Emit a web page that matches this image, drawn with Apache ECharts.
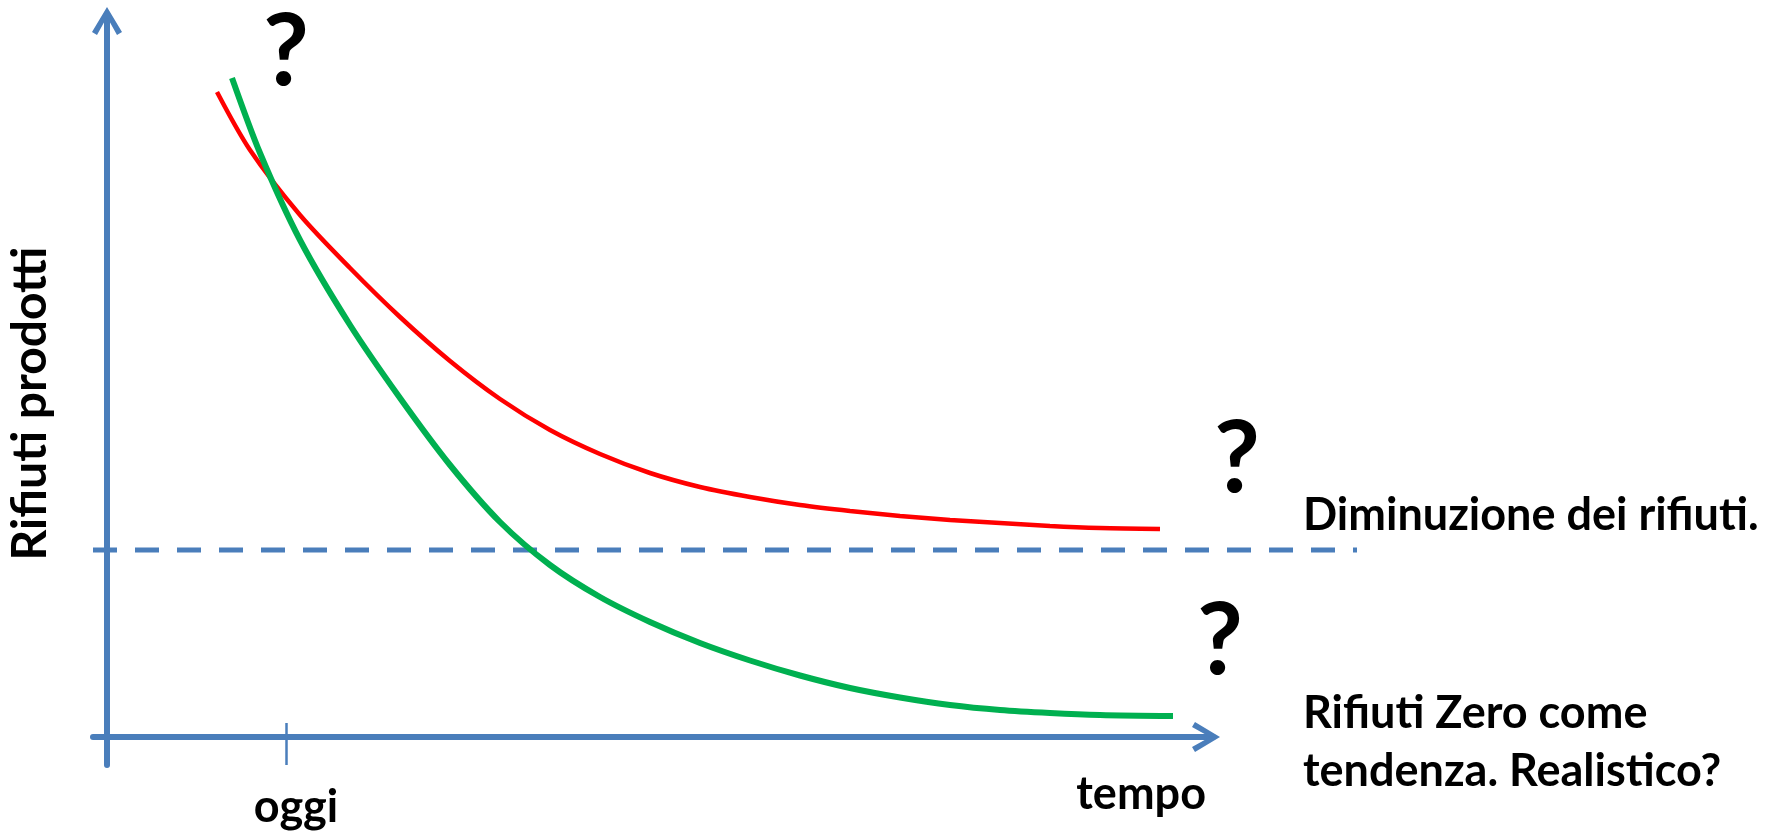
<!DOCTYPE html>
<html>
<head>
<meta charset="utf-8">
<style>
  html, body { margin: 0; padding: 0; background: #fff; }
  #chart { width: 1775px; height: 837px; }
</style>
<script src="https://cdn.jsdelivr.net/npm/echarts@6.0.0/dist/echarts.min.js"></script>
</head>
<body>
<div id="chart"></div>
<script>
// valori (unita' arbitrarie: tempo / rifiuti)
var redX = [11.0, 14.3, 19.3, 24.3, 29.3, 34.3, 39.3, 44.3, 49.3, 54.3, 59.3, 64.3, 69.3, 74.3, 79.3, 84.3, 89.3, 94.3, 99.3, 105.3];
var redY = [64.5, 58.7, 52.2, 46.9, 42.0, 37.6, 33.8, 30.7, 28.3, 26.4, 25.0, 24.0, 23.2, 22.6, 22.1, 21.7, 21.4, 21.1, 20.9, 20.8];

var greenX = [12.5, 15.3, 19.3, 24.3, 29.3, 34.3, 39.3, 44.3, 49.3, 54.3, 59.3, 64.3, 69.3, 74.3, 79.3, 84.3, 89.3, 94.3, 99.3, 106.6];
var greenY = [65.9, 58.4, 49.7, 41.2, 33.9, 27.2, 21.5, 17.2, 14.0, 11.5, 9.4, 7.65, 6.15, 4.9, 3.95, 3.2, 2.7, 2.4, 2.2, 2.1];

// linea tratteggiata (soglia), va oltre la freccia dell'asse
var targetX = [-1.4, 125.0];
var targetY = [18.7, 18.7];

var todayX = 17.9;           // tacca "oggi"
var xLabelValues = [18.9];
var xLabelTexts = ['oggi'];

var blue = '#4A7EBB';
var font = 'Lato, "Open Sans", sans-serif';
// freccia a V (punta in alto, ruotata da echarts)
var chevron = 'path://M15,0 L30,25 L25,28 L15,10 L5,28 L0,25 Z';

function zip(xs, ys) {
    var out = [];
    for (var i = 0; i < xs.length; i++) out.push([xs[i], ys[i]]);
    return out;
}

var chart = echarts.init(document.getElementById('chart'));
var option = {
    animation: false,
    backgroundColor: '#fff',
    grid: [
        { left: 93, right: 562, top: 14, bottom: 72, outerBoundsMode: 'none' },
        // stessa scala, piu' larga, solo per la linea tratteggiata
        { left: 93, right: 418, top: 14, bottom: 72, outerBoundsMode: 'none' }
    ],
    xAxis: [{
        type: 'value',
        min: -1.4,
        max: 110.6,
        name: 'tempo',
        nameLocation: 'end',
        nameGap: -7,
        nameTextStyle: {
            fontFamily: font, fontWeight: 'bold', fontSize: 45, color: '#000',
            align: 'right', verticalAlign: 'top', padding: [35, 0, 0, 0]
        },
        axisLine: {
            onZero: true,
            symbol: ['none', chevron],
            symbolSize: [30, 28],
            symbolOffset: [0, -7],
            lineStyle: { color: blue, width: 6 }
        },
        axisTick: { show: false },
        splitLine: { show: false },
        axisLabel: {
            customValues: xLabelValues,
            formatter: function (v) {
                var i = xLabelValues.indexOf(v);
                return i >= 0 ? xLabelTexts[i] : '';
            },
            margin: 20,
            fontFamily: font, fontWeight: 'bold', fontSize: 45, color: '#000'
        }
    }, {
        type: 'value', gridIndex: 1, min: -1.4, max: 125.0, show: false
    }],
    yAxis: [{
        type: 'value',
        min: -2.8,
        max: 72.3,
        name: 'Rifiuti prodotti',
        nameLocation: 'middle',
        nameRotate: 90,
        nameGap: 38,
        nameTextStyle: {
            fontFamily: font, fontWeight: 'bold', fontSize: 48, color: '#000',
            padding: [0, 28, 0, 0]
        },
        axisLine: {
            onZero: true,
            symbol: ['none', chevron],
            symbolSize: [30, 28],
            symbolOffset: [0, -7],
            lineStyle: { color: blue, width: 6 }
        },
        axisTick: { show: false },
        splitLine: { show: false },
        axisLabel: { show: false }
    }, {
        type: 'value', gridIndex: 1, min: -2.8, max: 72.3, show: false
    }],
    series: [
        {
            type: 'line',
            xAxisIndex: 1,
            yAxisIndex: 1,
            data: zip(targetX, targetY),
            showSymbol: false,
            silent: true,
            lineStyle: { color: blue, width: 5, type: [24, 18] },
            z: 1
        },
        {
            type: 'line',
            data: zip(redX, redY),
            smooth: 0.3,
            showSymbol: false,
            clip: false,
            lineStyle: { color: '#FF0000', width: 4.5 },
            markLine: {
                silent: true,
                symbol: ['none', 'none'],
                label: { show: false },
                lineStyle: { color: blue, width: 2.5, type: 'solid' },
                data: [
                    [{ coord: [todayX, 1.4] }, { coord: [todayX, -2.8] }]
                ]
            },
            z: 2
        },
        {
            type: 'line',
            data: zip(greenX, greenY),
            smooth: 0.3,
            showSymbol: false,
            clip: false,
            lineStyle: { color: '#00B050', width: 6 },
            z: 3
        }
    ],
    graphic: [
        { type: 'text', x: 286, y: 53, style: { text: '?', font: 'bold 100px ' + font, fill: '#000', align: 'center', verticalAlign: 'middle' } },
        { type: 'text', x: 1237, y: 460, style: { text: '?', font: 'bold 100px ' + font, fill: '#000', align: 'center', verticalAlign: 'middle' } },
        { type: 'text', x: 1220, y: 642, style: { text: '?', font: 'bold 100px ' + font, fill: '#000', align: 'center', verticalAlign: 'middle' } },
        { type: 'text', x: 1303, y: 515, style: { text: 'Diminuzione dei rifiuti.', font: 'bold 45px ' + font, fill: '#000', align: 'left', verticalAlign: 'middle' } },
        { type: 'text', x: 1303, y: 713, style: { text: 'Rifiuti Zero come', font: 'bold 45px ' + font, fill: '#000', align: 'left', verticalAlign: 'middle' } },
        { type: 'text', x: 1303, y: 771, style: { text: 'tendenza. Realistico?', font: 'bold 45px ' + font, fill: '#000', align: 'left', verticalAlign: 'middle' } }
    ]
};
chart.setOption(option);
</script>
</body>
</html>
